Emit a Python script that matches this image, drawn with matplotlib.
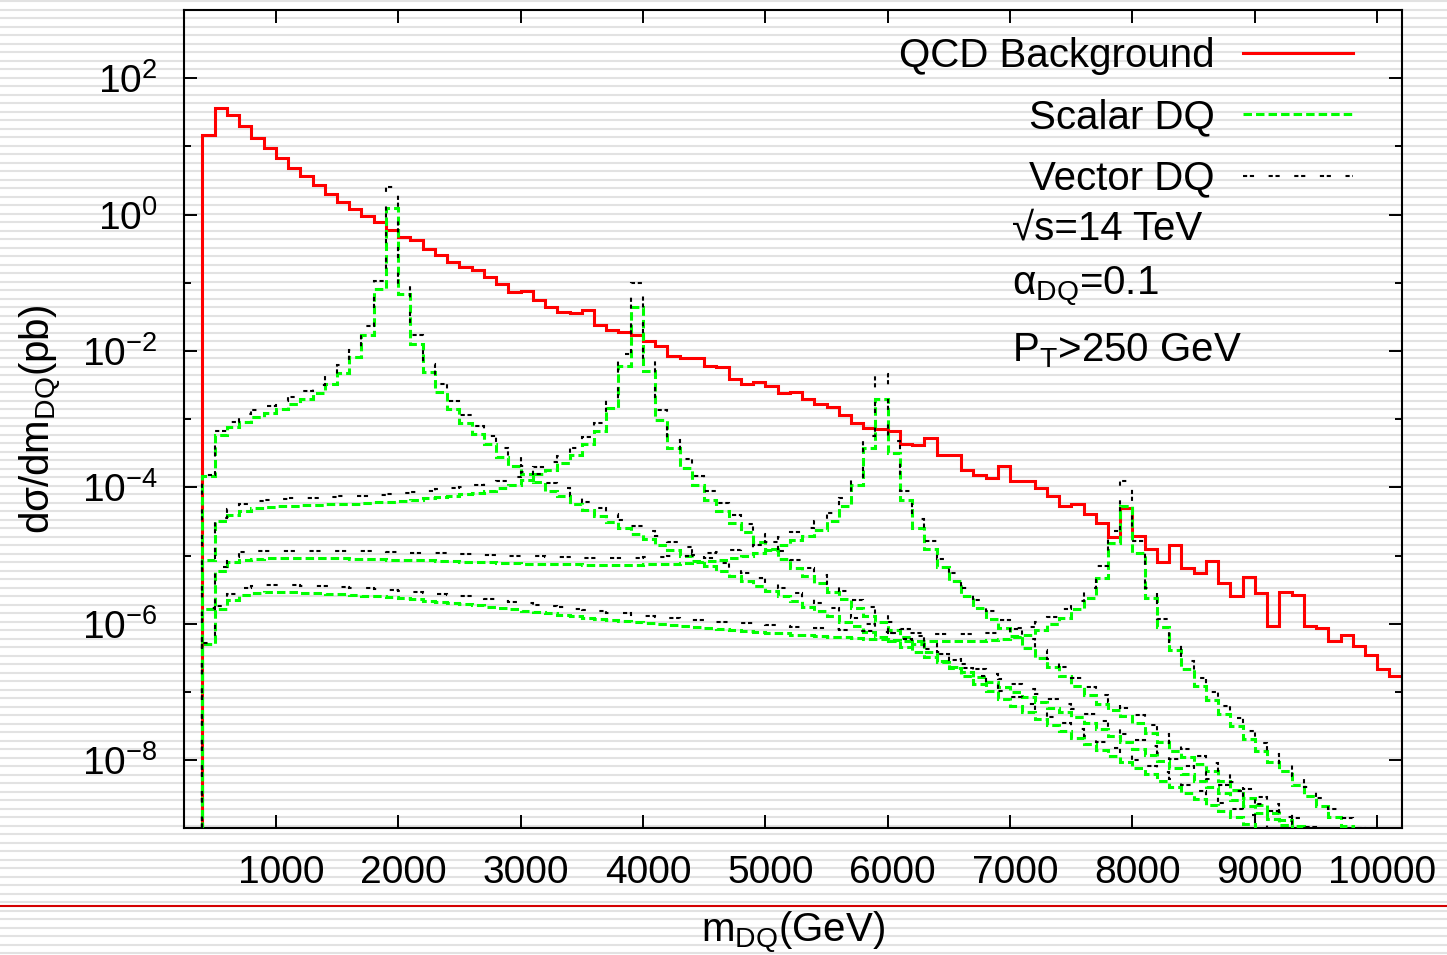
import numpy as np
import matplotlib
matplotlib.use("Agg")
import matplotlib.pyplot as plt
from matplotlib.ticker import NullFormatter
from matplotlib.transforms import ScaledTranslation

plt.rcParams['font.family'] = ['Liberation Sans', 'DejaVu Sans']
plt.rcParams['mathtext.fontset'] = 'custom'
plt.rcParams['mathtext.rm'] = 'Liberation Sans'
plt.rcParams['mathtext.it'] = 'Liberation Sans:italic'
plt.rcParams['mathtext.bf'] = 'Liberation Sans:bold'

# ---- binning: 100 GeV bins starting at 400 GeV ----
BIN_LO = 400.0
BIN_W = 100.0

# log10 of d(sigma)/dm [pb] per bin
qcd_log = [
    1.16, 1.56, 1.46, 1.30, 1.13, 0.98, 0.83, 0.69, 0.56, 0.44,
    0.30, 0.19, 0.08, -0.02, -0.11, -0.22, -0.33, -0.38, -0.51, -0.60,
    -0.70, -0.77, -0.82, -0.91, -1.02, -1.13, -1.12, -1.25, -1.35, -1.43,
    -1.45, -1.40, -1.62, -1.69, -1.72, -1.77, -1.86, -1.93, -2.08, -2.11,
    -2.10, -2.22, -2.24, -2.41, -2.48, -2.46, -2.51, -2.61, -2.60, -2.70,
    -2.78, -2.82, -2.94, -3.05, -3.13, -3.15, -3.18, -3.36, -3.38, -3.28,
    -3.53, -3.52, -3.75, -3.82, -3.87, -3.68, -3.90, -3.90, -4.01, -4.13,
    -4.27, -4.25, -4.39, -4.52, -4.73, -4.31, -4.72, -4.90, -5.09, -4.84,
    -5.18, -5.26, -5.08, -5.41, -5.60, -5.32, -5.55, -6.03, -5.53, -5.58,
    -6.04, -6.07, -6.26, -6.16, -6.33, -6.46, -6.67, -6.77,
]

scalar_2000_log = [
    -3.84, -3.23, -3.12, -3.04, -2.97, -2.91, -2.85, -2.78, -2.70, -2.61,
    -2.48, -2.32, -2.09, -1.76, -1.09, 0.10, -1.16, -1.90, -2.31, -2.60,
    -2.85, -3.06, -3.22, -3.37, -3.55, -3.68, -3.81, -3.92, -4.05, -4.13,
    -4.24, -4.33, -4.42, -4.51, -4.60, -4.68, -4.76, -4.84, -4.92, -5.00,
    -5.08, -5.15, -5.23, -5.30, -5.38, -5.45, -5.52, -5.60, -5.67, -5.75,
    -5.82, -5.89, -5.97, -6.04, -6.12, -6.19, -6.26, -6.34, -6.41, -6.49,
    -6.56, -6.63, -6.71, -6.78, -6.86, -6.93, -7.00, -7.08, -7.15, -7.23,
    -7.30, -7.37, -7.45, -7.54, -7.64, -7.73, -7.83, -7.92, -8.01, -8.11,
    -8.20, -8.30, -8.39, -8.48, -8.58, -8.67, -8.77, -8.86, -8.95, -9.05,
    -9.15, -9.25,
]
vector_2000_log = [
    -3.82, -3.18, -3.04, -2.93, -2.86, -2.80, -2.74, -2.67, -2.59, -2.50,
    -2.37, -2.21, -1.98, -1.64, -0.98, 0.41, -1.03, -1.77, -2.19, -2.48,
    -2.73, -2.94, -3.10, -3.25, -3.43, -3.56, -3.69, -3.80, -3.93, -4.01,
    -4.12, -4.21, -4.30, -4.39, -4.48, -4.56, -4.64, -4.72, -4.80, -4.88,
    -4.96, -5.03, -5.11, -5.18, -5.26, -5.33, -5.40, -5.48, -5.55, -5.63,
    -5.70, -5.77, -5.85, -5.92, -6.00, -6.07, -6.14, -6.22, -6.29, -6.37,
    -6.44, -6.51, -6.59, -6.66, -6.74, -6.81, -6.88, -6.96, -7.03, -7.11,
    -7.18, -7.25, -7.33, -7.42, -7.52, -7.61, -7.71, -7.80, -7.89, -7.99,
    -8.08, -8.18, -8.27, -8.36, -8.46, -8.55, -8.65, -8.74, -8.83, -8.93,
    -9.03, -9.13, -9.23,
]

scalar_4000_log = [
    -5.06, -4.50, -4.40, -4.35, -4.31, -4.29, -4.28, -4.27, -4.26, -4.26,
    -4.25, -4.24, -4.24, -4.23, -4.22, -4.21, -4.20, -4.18, -4.16, -4.14,
    -4.12, -4.10, -4.08, -4.05, -4.01, -3.96, -3.89, -3.81, -3.74, -3.65,
    -3.53, -3.37, -3.18, -2.84, -2.22, -1.35, -2.30, -3.01, -3.42, -3.71,
    -3.96, -4.18, -4.35, -4.52, -4.66, -4.80, -4.92, -5.05, -5.18, -5.30,
    -5.41, -5.54, -5.64, -5.77, -5.88, -5.98, -6.09, -6.20, -6.30, -6.42,
    -6.54, -6.65, -6.77, -6.88, -6.99, -7.10, -7.20, -7.30, -7.40, -7.49,
    -7.58, -7.67, -7.76, -7.85, -7.94, -8.03, -8.12, -8.21, -8.30, -8.39,
    -8.48, -8.57, -8.66, -8.75, -8.84, -8.93, -9.03, -9.13, -9.23,
]
vector_4000_log = [
    -5.04, -4.45, -4.32, -4.24, -4.20, -4.18, -4.17, -4.16, -4.15, -4.15,
    -4.14, -4.13, -4.13, -4.12, -4.11, -4.10, -4.09, -4.07, -4.05, -4.03,
    -4.01, -3.99, -3.97, -3.94, -3.90, -3.85, -3.78, -3.70, -3.63, -3.54,
    -3.42, -3.26, -3.06, -2.70, -2.05, -1.00, -2.13, -2.87, -3.30, -3.59,
    -3.84, -4.06, -4.23, -4.40, -4.54, -4.68, -4.80, -4.93, -5.06, -5.18,
    -5.29, -5.42, -5.52, -5.65, -5.76, -5.86, -5.97, -6.08, -6.18, -6.30,
    -6.42, -6.53, -6.65, -6.76, -6.87, -6.98, -7.08, -7.18, -7.28, -7.37,
    -7.46, -7.55, -7.64, -7.73, -7.82, -7.91, -8.00, -8.09, -8.18, -8.27,
    -8.36, -8.45, -8.54, -8.63, -8.72, -8.81, -8.91, -9.01, -9.11, -9.21,
]

scalar_6000_log = [
    -5.79, -5.22, -5.10, -5.06, -5.05, -5.04, -5.04, -5.04, -5.04, -5.04,
    -5.04, -5.04, -5.05, -5.05, -5.05, -5.06, -5.06, -5.07, -5.07, -5.08,
    -5.08, -5.09, -5.10, -5.10, -5.11, -5.11, -5.12, -5.12, -5.13, -5.13,
    -5.13, -5.14, -5.14, -5.14, -5.14, -5.14, -5.13, -5.13, -5.12, -5.11,
    -5.10, -5.08, -5.06, -5.03, -5.00, -4.96, -4.91, -4.84, -4.77, -4.71,
    -4.62, -4.50, -4.28, -3.97, -3.42, -2.71, -3.50, -4.18, -4.59, -4.90,
    -5.17, -5.38, -5.60, -5.77, -5.93, -6.06, -6.18, -6.35, -6.50, -6.63,
    -6.76, -6.91, -7.05, -7.17, -7.27, -7.36, -7.46, -7.60, -7.74, -7.87,
    -7.95, -8.06, -8.16, -8.30, -8.44, -8.55, -8.66, -8.77, -8.88, -8.97,
    -9.10, -9.20,
]
vector_6000_log = [
    -5.77, -5.17, -5.02, -4.95, -4.94, -4.93, -4.93, -4.93, -4.93, -4.93,
    -4.93, -4.93, -4.94, -4.94, -4.94, -4.95, -4.95, -4.96, -4.96, -4.97,
    -4.97, -4.98, -4.99, -4.99, -5.00, -5.00, -5.01, -5.01, -5.02, -5.02,
    -5.02, -5.03, -5.03, -5.03, -5.03, -5.03, -5.02, -5.02, -5.01, -5.00,
    -4.99, -4.97, -4.95, -4.92, -4.89, -4.85, -4.80, -4.73, -4.66, -4.60,
    -4.50, -4.38, -4.16, -3.85, -3.24, -2.34, -3.32, -4.06, -4.47, -4.78,
    -5.05, -5.26, -5.48, -5.65, -5.81, -5.94, -6.06, -6.23, -6.38, -6.51,
    -6.64, -6.79, -6.93, -7.05, -7.15, -7.24, -7.34, -7.48, -7.62, -7.75,
    -7.83, -7.94, -8.04, -8.18, -8.32, -8.43, -8.54, -8.65, -8.76, -8.85,
    -8.98, -9.08, -9.20,
]

scalar_8000_log = [
    -6.30, -5.79, -5.65, -5.58, -5.55, -5.54, -5.54, -5.54, -5.55, -5.55,
    -5.56, -5.57, -5.58, -5.59, -5.60, -5.61, -5.63, -5.64, -5.66, -5.68,
    -5.69, -5.71, -5.73, -5.75, -5.77, -5.79, -5.81, -5.83, -5.85, -5.87,
    -5.89, -5.91, -5.93, -5.95, -5.96, -5.98, -5.99, -6.01, -6.02, -6.04,
    -6.05, -6.06, -6.08, -6.09, -6.10, -6.12, -6.13, -6.14, -6.16, -6.17,
    -6.18, -6.19, -6.20, -6.21, -6.22, -6.23, -6.24, -6.25, -6.25, -6.26,
    -6.26, -6.26, -6.26, -6.25, -6.24, -6.22, -6.19, -6.16, -6.09, -6.01,
    -5.91, -5.79, -5.62, -5.33, -4.81, -4.28, -4.96, -5.62, -6.05, -6.39,
    -6.67, -6.92, -7.12, -7.33, -7.50, -7.69, -7.87, -8.03, -8.16, -8.36,
    -8.52, -8.68, -8.83, -8.97, -9.12, -9.27,
]
vector_8000_log = [
    -6.28, -5.74, -5.57, -5.47, -5.44, -5.43, -5.43, -5.43, -5.44, -5.44,
    -5.45, -5.46, -5.47, -5.48, -5.49, -5.50, -5.52, -5.53, -5.55, -5.57,
    -5.58, -5.60, -5.62, -5.64, -5.66, -5.68, -5.70, -5.72, -5.74, -5.76,
    -5.78, -5.80, -5.82, -5.84, -5.85, -5.87, -5.88, -5.90, -5.91, -5.93,
    -5.94, -5.95, -5.97, -5.98, -5.99, -6.01, -6.02, -6.03, -6.05, -6.06,
    -6.07, -6.08, -6.09, -6.10, -6.11, -6.12, -6.13, -6.14, -6.14, -6.15,
    -6.15, -6.15, -6.15, -6.14, -6.13, -6.11, -6.08, -6.05, -5.98, -5.90,
    -5.79, -5.66, -5.48, -5.16, -4.64, -3.91, -4.79, -5.48, -5.93, -6.27,
    -6.55, -6.80, -7.00, -7.21, -7.38, -7.57, -7.75, -7.91, -8.04, -8.24,
    -8.40, -8.56, -8.71, -8.85, -9.00, -9.15, -9.30,
]

xtick_values = [1000, 2000, 3000, 4000, 5000, 6000, 7000, 8000, 9000, 10000]
ytick_major_exp = [-8, -6, -4, -2, 0, 2]
ytick_minor_exp = [-9, -7, -5, -3, -1, 1, 3]

RED = '#ff0000'
GREEN = '#00ff00'
BLACK = '#000000'
FS = 29

W, H = 1447, 955
fig = plt.figure(figsize=(W / 100, H / 100), dpi=100)
fig.patch.set_facecolor('white')

# light horizontal banding over the whole sheet and the thin red rule
bg = fig.add_axes([0, 0, 1, 1], zorder=-10)
bg.set_xlim(0, W)
bg.set_ylim(H, 0)
bg.axis('off')
bg.hlines(1.2 + 8.5 * np.arange(113), 0, W, color='#e2e2e2', lw=1.5)
bg.hlines(905.5, 0, W, color='#d40000', lw=1.5)

left, right, top, bottom = 184, 1401.7, 10, 828.3
ax = fig.add_axes([left / W, 1 - bottom / H, (right - left) / W, (bottom - top) / H])
ax.set_facecolor('none')


def draw(vals, **kw):
    v = 10.0 ** np.asarray(vals, dtype=float)
    edges = BIN_LO + BIN_W * np.arange(len(v) + 1)
    return ax.stairs(v, edges, baseline=1e-15, fill=False, **kw)


green_ls = (0, (2.77, 1.33))
black_ls = (0, (2.0, 1.3, 2.0, 7.0))

h_qcd = draw(qcd_log, color=RED, lw=2.2, label='QCD Background', zorder=2)
h_s = None
h_v = None
for s_vals, v_vals in [(scalar_2000_log, vector_2000_log),
                       (scalar_4000_log, vector_4000_log),
                       (scalar_6000_log, vector_6000_log),
                       (scalar_8000_log, vector_8000_log)]:
    hs = draw(s_vals, color=GREEN, lw=2.2, linestyle=green_ls, zorder=3)
    hv = draw(v_vals, color=BLACK, lw=1.5, linestyle=black_ls, zorder=4)
    h_s = h_s or hs
    h_v = h_v or hv
h_s.set_label('Scalar DQ')
h_v.set_label('Vector DQ')

ax.set_yscale('log')
ax.set_xlim(250, 10200)
ax.set_ylim(1e-9, 1e3)

ax.set_xticks(xtick_values)
ax.set_xticklabels([str(v) for v in xtick_values])
ax.set_yticks([10.0 ** e for e in ytick_major_exp])
ax.set_yticklabels([r'$\mathregular{10^{%d}}$' % e for e in ytick_major_exp])
ax.set_yticks([10.0 ** e for e in ytick_minor_exp], minor=True)
ax.yaxis.set_minor_formatter(NullFormatter())

ax.tick_params(axis='both', which='major', direction='in', length=9.4, width=1.4,
               top=True, right=True, labelsize=FS - 1)
ax.tick_params(axis='both', which='minor', direction='in', length=4.7, width=1.4,
               top=True, right=True)
ax.tick_params(axis='x', which='major', pad=19)
ax.tick_params(axis='y', which='major', pad=19)
for lab in ax.get_xticklabels():
    lab.set_transform(lab.get_transform() + ScaledTranslation(0.05, 0, fig.dpi_scale_trans))
for sp in ax.spines.values():
    sp.set_linewidth(1.5)

ax.set_xlabel(r'$\mathregular{m_{DQ}}$(GeV)', fontsize=FS)
ax.xaxis.set_label_coords(0.5, (bottom - 909) / (bottom - top))
ax.set_ylabel(r'd$\mathregular{\sigma}$/d$\mathregular{m_{DQ}}$(pb)', fontsize=FS)
ax.yaxis.set_label_coords((62 - left) / (right - left), 0.5)

leg = ax.legend(handles=[h_qcd, h_s, h_v], loc='upper right',
                bbox_to_anchor=(1352.7 / W, 1 - 37 / H), bbox_transform=fig.transFigure,
                frameon=False, markerfirst=False, fontsize=FS,
                handlelength=2.73, handletextpad=0.69, labelspacing=0.58,
                borderpad=0, borderaxespad=0)

tx = (1012 - left) / (right - left)
def yfrac(py):
    return (bottom - py) / (bottom - top)

ax.text(tx, yfrac(240), '\u221As=14 TeV', transform=ax.transAxes, fontsize=FS, va='baseline')
ax.text(tx, yfrac(293), r'$\mathregular{\alpha_{DQ}}$=0.1', transform=ax.transAxes, fontsize=FS, va='baseline')
ax.text(tx, yfrac(361), r'$\mathregular{P_{T}}$>250 GeV', transform=ax.transAxes, fontsize=FS, va='baseline')

fig.savefig('out.png', dpi=100, facecolor='white')
